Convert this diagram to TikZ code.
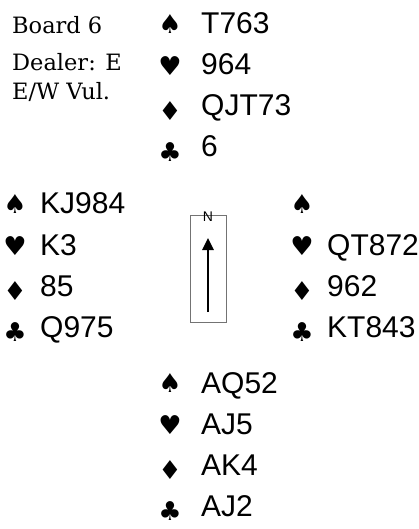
\documentclass[tikz,border=0pt]{standalone}
\usepackage{fontspec}
\setmainfont{Liberation Sans}
\newfontfamily\boardfont{DejaVu Serif}
\newfontfamily\suitfont{DejaVu Sans}
\usetikzlibrary{arrows.meta}

\tikzset{
    cards/.style={anchor=base west, inner sep=0pt, font=\fontsize{30}{36}\selectfont},
    suit/.style={inner sep=0pt, font=\suitfont\fontsize{26}{30}\selectfont},
    info/.style={anchor=base west, inner sep=0pt, font=\boardfont\fontsize{22.5}{27}\selectfont}
}

\begin{document}
\begin{tikzpicture}[x=1pt, y=-1pt]
    \useasboundingbox (0,0) rectangle (419,529);

    % Board info
    \node[info] (board) at (12,34) {Board 6};
    \node[info] (dealer) at (12,71) {Dealer: E};
    \node[info] (vul) at (12,100) {E/W Vul.};

    % North
    \node[suit] (ns) at (170,24) {♠};
    \node[suit] (nh) at (170,66) {♥};
    \node[suit] (nd) at (170,111) {♦};
    \node[suit] (nc) at (170,152) {♣};
    \node[cards] (nS) at (201,34) {T763};
    \node[cards] (nH) at (201,75) {964};
    \node[cards] (nD) at (201,116) {QJT73};
    \node[cards] (nC) at (201,157) {6};

    % West
    \node[suit] (ws) at (15,204) {♠};
    \node[suit] (wh) at (15,246) {♥};
    \node[suit] (wd) at (15,291) {♦};
    \node[suit] (wc) at (15,332) {♣};
    \node[cards] (wS) at (40,214) {KJ984};
    \node[cards] (wH) at (40,255) {K3};
    \node[cards] (wD) at (40,296) {85};
    \node[cards] (wC) at (40,337) {Q975};

    % East
    \node[suit] (es) at (302,204) {♠};
    \node[suit] (eh) at (302,246) {♥};
    \node[suit] (ed) at (302,291) {♦};
    \node[suit] (ec) at (302,332) {♣};
    \node[cards] (eH) at (327,255) {QT872};
    \node[cards] (eD) at (327,296) {962};
    \node[cards] (eC) at (327,337) {KT843};

    % South
    \node[suit] (ss) at (170,383) {♠};
    \node[suit] (sh) at (170,425) {♥};
    \node[suit] (sd) at (170,470) {♦};
    \node[suit] (sc) at (170,511) {♣};
    \node[cards] (sS) at (201,393) {AQ52};
    \node[cards] (sH) at (201,434) {AJ5};
    \node[cards] (sD) at (201,475) {AK4};
    \node[cards] (sC) at (201,516) {AJ2};

    % Compass
    \node[draw=black!55, line width=0.8pt, minimum width=36pt, minimum height=107pt, inner sep=0pt] (compass) at (208,268.5) {};
    \node[inner sep=0pt, font=\fontsize{14}{16}\selectfont] (north) at (208,217) {N};
    \coordinate (tail) at (208,312);
    \coordinate (tip) at (208,238);
    \draw[line width=2.6pt, -{Triangle[length=12pt, width=11pt]}] (tail) -- (tip);
\end{tikzpicture}
\end{document}
